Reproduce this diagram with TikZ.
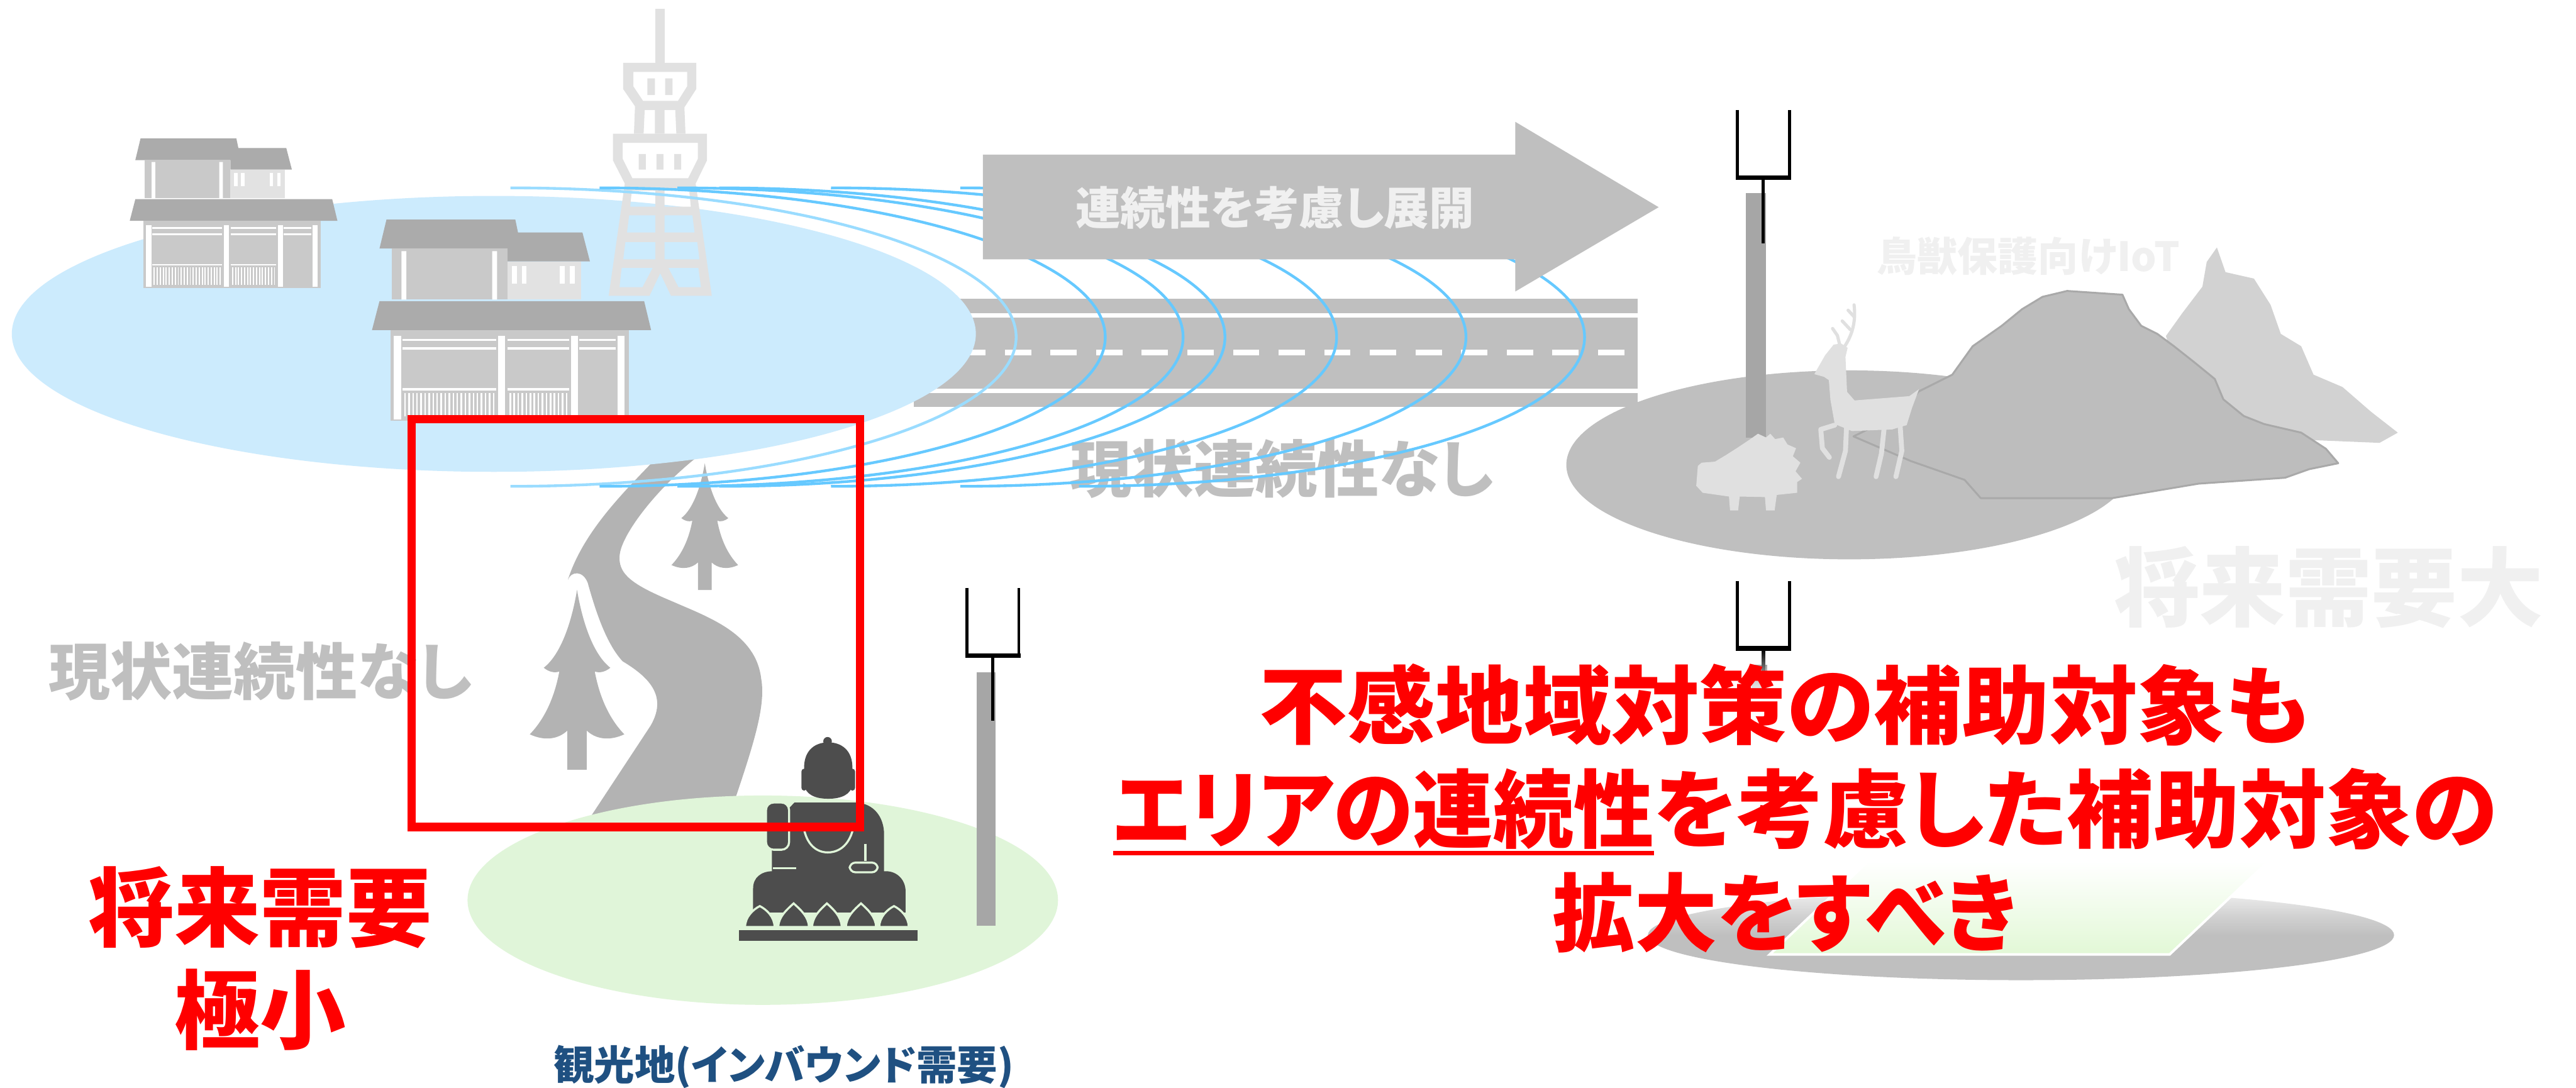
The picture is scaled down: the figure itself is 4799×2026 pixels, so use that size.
\documentclass[tikz,border=0pt]{standalone}
\usepackage{fontspec}
\newfontfamily\jp{Noto Sans CJK JP}[RawFeature={+palt}]

\definecolor{sky}{HTML}{CCEBFD}
\definecolor{meadow}{HTML}{E0F5D9}
\definecolor{arcdark}{HTML}{66C9FF}
\definecolor{arclight}{HTML}{9ADCFF}
\definecolor{roadc}{HTML}{BFBFBF}
\definecolor{riverc}{HTML}{B3B3B3}
\definecolor{roofc}{HTML}{ABABAB}
\definecolor{wallc}{HTML}{C9C9C9}
\definecolor{annexc}{HTML}{E2E2E2}
\definecolor{towerc}{HTML}{E1E1E1}
\definecolor{fieldgrey}{HTML}{BFBFBF}
\definecolor{peakback}{HTML}{D2D2D2}
\definecolor{peakfront}{HTML}{BDBDBD}
\definecolor{peakedge}{HTML}{A9A9A9}
\definecolor{animal}{HTML}{E0E0E0}
\definecolor{polec}{HTML}{A6A6A6}
\definecolor{statue}{HTML}{4D4D4D}
\definecolor{softtxt}{HTML}{F0F0F0}
\definecolor{greytxt}{HTML}{BFBFBF}
\definecolor{navytxt}{HTML}{1F5081}
\definecolor{ellbot}{HTML}{BFBFBF}
\definecolor{ellmid}{HTML}{D2D2D2}
\definecolor{elltop}{HTML}{F2F2F2}
\definecolor{turf}{HTML}{E2F8D6}

\pgfdeclareverticalshading{ellfade}{100bp}{color(0bp)=(ellbot); color(50bp)=(ellbot); color(61bp)=(ellmid); color(75bp)=(elltop); color(100bp)=(elltop)}

\tikzset{
  lbl/.style={inner sep=0pt, outer sep=0pt, align=center},
  wave/.style={line width=1.45pt, draw=arcdark},
  house/.pic={
    \fill[roofc] (-20,-321) -- (-7,-375) -- (233,-375) -- (238,-351) -- (358,-351) -- (372,-297) -- (218,-297) -- (218,-321) -- cycle;
    \fill[wallc] (3,-321) rectangle (218,-226);
    \fill[white] (21,-316) rectangle (30,-226) (190,-316) rectangle (199,-226);
    \fill[annexc] (218,-297) rectangle (355,-226);
    \foreach \wx in {227,245,316,335} \fill[white] (\wx,-288) rectangle ({\wx+9},-256);
    \fill[roofc] (-20,-223) -- (473,-223) -- (486,-169) -- (-34,-169) -- cycle;
    \fill[wallc] (0,-169) rectangle (445,0);
    \foreach \px in {7,201,337,424} \fill[white] (\px,-158) rectangle ({\px+13},-3);
    \foreach \a/\b in {23/197,219/333,352/420} {
      \fill[white] (\a,-153) rectangle (\b,-149);
      \fill[white] (\a,-137) rectangle (\b,-133);
    }
    \foreach \a/\b in {23/197,219/333} \fill[white] (\a,-61) rectangle (\b,-57);
    \foreach \s in {0,...,22} \fill[white] ({26+7.5*\s},-52) rectangle ({29+7.5*\s},-8);
    \foreach \s in {0,...,14} \fill[white] ({222+7.5*\s},-52) rectangle ({225+7.5*\s},-8);
  },
  conifer/.pic={
    \fill[riverc] (0,0) .. controls (-10,60) and (-30,120) .. (-62,145)
      .. controls (-52,153) and (-42,155) .. (-33,152)
      .. controls (-42,200) and (-60,240) .. (-88,269)
      .. controls (-60,282) and (-35,278) .. (-18,262)
      -- (-18,335) -- (18,335) -- (18,262)
      .. controls (35,278) and (60,282) .. (88,269)
      .. controls (60,240) and (42,200) .. (33,152)
      .. controls (42,155) and (52,153) .. (62,145)
      .. controls (30,120) and (10,60) .. (0,0) -- cycle;
  },
  fork/.pic={
    \draw[line width=1.6pt] (0,0) -- (0,126) -- (97,126) -- (97,0);
    \draw[line width=2.4pt] (-3,126) -- (100,126);
  },
}

\begin{document}
\begin{tikzpicture}[x=0.01cm, y=-0.01cm]
\useasboundingbox (0,0) rectangle (4799,2026);
\fill[white] (0,0) rectangle (4799,2026);

% winding river
\fill[riverc] (1240,835) .. controls (1180,900) and (1090,980) .. (1058,1080)
  .. controls (1064,1064) and (1086,1062) .. (1095,1086)
  .. controls (1110,1140) and (1130,1200) .. (1160,1232)
  .. controls (1215,1265) and (1242,1300) .. (1212,1352)
  -- (1075,1560) -- (1345,1560)
  .. controls (1400,1400) and (1428,1320) .. (1418,1264)
  .. controls (1408,1180) and (1320,1150) .. (1254,1121)
  .. controls (1180,1090) and (1148,1070) .. (1155,1030)
  .. controls (1162,990) and (1230,900) .. (1320,835) -- cycle;

% highway
\fill[roadc] (1788,556) rectangle (3051,584);
\fill[roadc] (1740,592) rectangle (3051,724);
\fill[roadc] (1702,732) rectangle (3051,758);
\foreach \k in {-1,...,13} \fill[white] ({1872+85*\k},651) rectangle ({1921+85*\k},662);

% ground patches
\fill[meadow] (1421,1677) ellipse [x radius=550, y radius=195];
\fill[sky] (920,622) ellipse [x radius=898, y radius=257];

% trees
\pic at (1075,1099) {conifer};
\pic[scale=0.705] at (1313,863) {conifer};

% houses
\pic[scale=0.744] at (267,537) {house};
\pic at (727,784) {house};

% tower
\fill[towerc] (1221,16) rectangle (1238,117);
\fill[towerc, even odd rule] (1161,117) -- (1297,117) -- (1297,166) -- (1275,200) -- (1277,249) -- (1181,249) -- (1183,198) -- (1161,166) -- cycle
  (1180,134) -- (1280,134) -- (1280,161) -- (1263,188) -- (1198,188) -- (1180,161) -- cycle
  (1201,205) -- (1220,205) -- (1220,249) -- (1199,249) -- cycle
  (1238,205) -- (1258,205) -- (1260,249) -- (1238,249) -- cycle;
\fill[towerc] (1206,146) rectangle (1220,177) (1239,146) rectangle (1253,177);
\fill[towerc, even odd rule] (1142,249) -- (1317,249) -- (1317,299) -- (1296,342) -- (1164,342) -- (1142,299) -- cycle
  (1160,266) -- (1300,266) -- (1300,296) -- (1282,332) -- (1178,332) -- (1160,296) -- cycle;
\fill[towerc] (1190,287) rectangle (1203,316) (1223,287) rectangle (1236,316) (1256,287) rectangle (1269,316);
\fill[towerc, even odd rule] (1164,342) -- (1296,342) -- (1326,551) -- (1250,551) -- (1230,509) -- (1210,551) -- (1134,551) -- cycle
  (1177,355) -- (1221,355) -- (1221,385) -- (1174,385) -- cycle
  (1238,355) -- (1284,355) -- (1287,385) -- (1238,385) -- cycle
  (1172,401) -- (1221,401) -- (1221,433) -- (1168,433) -- cycle
  (1238,401) -- (1290,401) -- (1294,433) -- (1238,433) -- cycle
  (1165,451) -- (1221,451) -- (1221,483) -- (1161,483) -- cycle
  (1238,451) -- (1299,451) -- (1303,483) -- (1238,483) -- cycle
  (1158,499) -- (1216,499) -- (1197,535) -- (1154,535) -- cycle
  (1245,499) -- (1301,499) -- (1306,535) -- (1264,535) -- cycle;

% mountain area
\fill[fieldgrey] (3445,866) ellipse [x radius=527, y radius=176];
\fill[peakback] (4035,626) -- (4065,584) -- (4103,534) -- (4111,488) -- (4130,461) -- (4146,507) -- (4199,519) -- (4230,568) -- (4249,622) -- (4287,645) -- (4310,698) -- (4364,721) -- (4417,767) -- (4467,806) -- (4433,825) -- (4287,819) -- (4100,820) -- cycle;
\filldraw[fill=peakfront, draw=peakedge, line width=1pt, line join=round] (3805,553) -- (3851,542) -- (3954,549) -- (3966,576) -- (3989,607) -- (4019,622) -- (4050,645) -- (4088,675) -- (4126,706) -- (4142,744) -- (4180,775) -- (4218,790) -- (4287,806) -- (4333,836) -- (4356,863) -- (4302,874) -- (4257,890) -- (4096,901) -- (3935,928) -- (3690,928) -- (3660,894) -- (3560,859) -- (3453,813) -- (3530,775) -- (3575,729) -- (3637,698) -- (3675,645) -- (3729,607) -- (3767,576) -- cycle;

% antenna by the mountain
\fill[polec] (3252,360) rectangle (3290,816);
\pic at (3237,205) {fork};
\draw[line width=1.7pt] (3285,331) -- (3285,453);

% deer
\fill[animal] (3380,697) -- (3398,702) -- (3407,708) -- (3410,745) -- (3418,790) -- (3450,803) -- (3525,800) -- (3552,792) -- (3562,760) -- (3575,725) -- (3557,738) -- (3455,746) -- (3441,730) -- (3438,665) -- (3442,648) -- (3430,640) -- (3416,642) -- (3400,662) -- cycle;
\begin{scope}[draw=animal, line width=2.6pt, line cap=round, line join=round]
  \draw (3440,795) -- (3438,840) -- (3425,888);
  \draw (3418,792) -- (3392,800) -- (3395,835) -- (3408,852);
  \draw (3510,798) -- (3505,845) -- (3495,888);
  \draw (3540,795) -- (3543,840) -- (3532,888);
\end{scope}
\begin{scope}[draw=animal, line width=1.7pt, line cap=round]
  \draw (3436,646) .. controls (3450,625) and (3458,600) .. (3454,568);
  \draw (3447,614) -- (3432,598);
  \draw (3454,590) -- (3443,578);
  \draw (3428,645) -- (3423,625) -- (3414,612);
\end{scope}

% boar
\fill[animal] (3163,868) -- (3160,905) -- (3172,918) -- (3221,925) -- (3223,951) -- (3238,951) -- (3241,925) -- (3288,926) -- (3290,951) -- (3306,951) -- (3310,922) -- (3348,918) -- (3348,898) -- (3357,892) -- (3345,878) -- (3354,862) -- (3340,850) -- (3346,835) -- (3330,828) -- (3322,815) -- (3307,818) -- (3298,808) -- (3290,815) -- (3275,808) -- (3258,820) -- (3240,832) -- (3215,848) -- (3195,860) -- (3170,862) -- cycle;

% grey captions under the waves
\node[lbl, anchor=base, text=greytxt, font=\jp\bfseries\fontsize{32.7pt}{36pt}\selectfont] (gapmid) at (2388,917) {現状連続性なし};
\node[lbl, anchor=base, text=greytxt, font=\jp\bfseries\fontsize{32.7pt}{36pt}\selectfont] (gapleft) at (485,1294) {現状連続性なし};

% radio waves
\draw[wave, draw=arclight] (951,350) .. controls (1471,350) and (1893,474) .. (1893,628) .. controls (1893,782) and (1471,906) .. (951,906);
\foreach \s in {1117,1262,1340,1548,1789,2010}
  \draw[wave] (\s,350) .. controls ({\s+520},350) and ({\s+942},474) .. ({\s+942},628) .. controls ({\s+942},782) and ({\s+520},906) .. (\s,906);

% arrow
\fill[roadc] (1831,288) -- (2823,288) -- (2823,227) -- (3090,386) -- (2823,543) -- (2823,483) -- (1831,483) -- cycle;
\node[lbl, anchor=base, text=softtxt, font=\jp\bfseries\fontsize{23.9pt}{26pt}\selectfont] (deploy) at (2375,419) {連続性を考慮し展開};

% seated statue
\fill[statue] (1541.7,1381) circle (8);
\fill[statue] (1498,1430) .. controls (1498,1398) and (1518,1383) .. (1543,1383) .. controls (1568,1383) and (1588,1398) .. (1588,1430) -- (1588,1462) .. controls (1585,1480) and (1568,1488) .. (1543,1488) .. controls (1518,1488) and (1501,1480) .. (1498,1462) -- cycle;
\fill[statue, rounded corners=1.5pt] (1493,1432) rectangle (1503,1473) (1583,1432) rectangle (1593,1473);
\fill[statue] (1480,1495) -- (1595,1495) .. controls (1628,1497) and (1647,1522) .. (1647,1555) -- (1647,1628) -- (1438,1628) -- (1438,1540) -- cycle;
\filldraw[fill=statue, draw=meadow, line width=1.1pt, rounded corners=4pt] (1427,1495) rectangle (1470,1583);
\fill[statue] (1403,1700) -- (1403,1655) .. controls (1403,1635) and (1418,1623) .. (1440,1623) -- (1650,1623) .. controls (1672,1623) and (1687,1640) .. (1687,1660) -- (1687,1700) -- cycle;
\foreach \a/\b/\t in {1388/1443/1688, 1450/1507/1683, 1513/1568/1683, 1576/1632/1683, 1638/1693/1688}
  \filldraw[fill=statue, draw=meadow, line width=1.1pt] (\a,1727) .. controls (\a,1708) and ({(\a+\b)/2-12},1694) .. ({(\a+\b)/2},\t) .. controls ({(\a+\b)/2+12},1694) and (\b,1708) .. (\b,1727) -- cycle;
\fill[statue] (1377,1733) rectangle (1709,1753);
\begin{scope}[draw=meadow, line width=1.1pt]
  \draw (1497,1540) .. controls (1502,1572) and (1520,1588) .. (1542,1588) .. controls (1565,1588) and (1584,1572) .. (1590,1540);
  \draw (1440,1617) -- (1483,1617);
  \draw (1612,1572) -- (1612,1604);
  \draw[rounded corners=3pt] (1583,1607) rectangle (1635,1625);
\end{scope}

% antenna by the statue
\fill[polec] (1819,1252) rectangle (1855,1725);
\pic at (1801,1095) {fork};
\draw[line width=1.7pt] (1849,1221) -- (1849,1343);

% highlight frame
\draw[red, line width=4.55pt] (767,781) rectangle (1602,1541);

% future site
\shade[shading=ellfade] (3765,1742) ellipse [x radius=695, y radius=84];
\shade[top color=white, bottom color=turf, middle color=turf!50!white] (3297,1778) -- (4042,1778) -- (4225,1605) -- (3480,1605) -- cycle;
\draw[white, line width=1.3pt] (3480,1605) -- (3297,1778) -- (4042,1778) -- (4225,1605);
\shade[top color=polec, bottom color=white] (3263,1239) rectangle (3292,1300);
\pic at (3237,1082) {fork};
\shade[top color=black, bottom color=white] (3282,1209) rectangle (3288,1290);

% light labels
\node[lbl, anchor=base, text=softtxt, font=\jp\bfseries\fontsize{21.3pt}{24pt}\selectfont] (iot) at (3779,505) {鳥獣保護向けIoT};
\node[lbl, anchor=base, text=softtxt, font=\jp\bfseries\fontsize{45.5pt}{50pt}\selectfont] (bigneed) at (4338,1155) {将来需要大};

% red labels
\node[lbl, anchor=base, text=red, font=\jp\bfseries\fontsize{45.5pt}{50pt}\selectfont] (lowA) at (485,1751) {将来需要};
\node[lbl, anchor=base, text=red, font=\jp\bfseries\fontsize{45.5pt}{50pt}\selectfont] (lowB) at (485,1942) {極小};

\node[lbl, anchor=base, text=red, font=\jp\bfseries\fontsize{45pt}{50pt}\selectfont] (mainA) at (3325,1374) {\scalebox{1.035}[1]{不感地域対策の補助対象も}};
\node[lbl, anchor=base east, text=red, font=\jp\bfseries\fontsize{45pt}{50pt}\selectfont] (mainB1) at (3081,1567) {\scalebox{0.945}[1]{エリアの連続性}};
\node[lbl, anchor=base west, text=red, font=\jp\bfseries\fontsize{45pt}{50pt}\selectfont] (mainB2) at (mainB1.base east) {\scalebox{1.015}[1]{を考慮した補助対象の}};
\node[lbl, anchor=base, text=red, font=\jp\bfseries\fontsize{45pt}{50pt}\selectfont] (mainC) at (3325,1760) {\scalebox{0.97}[1]{拡大をすべき}};
\coordinate (ulev) at (0,1589);
\draw[red, line width=2.2pt] (mainB1.west |- ulev) -- (mainB1.east |- ulev);

% site name
\node[lbl, text=navytxt, font=\jp\bfseries\fontsize{21.5pt}{24pt}\selectfont] (site) at (1460,1988) {観光地(インバウンド需要)};
\end{tikzpicture}
\end{document}
